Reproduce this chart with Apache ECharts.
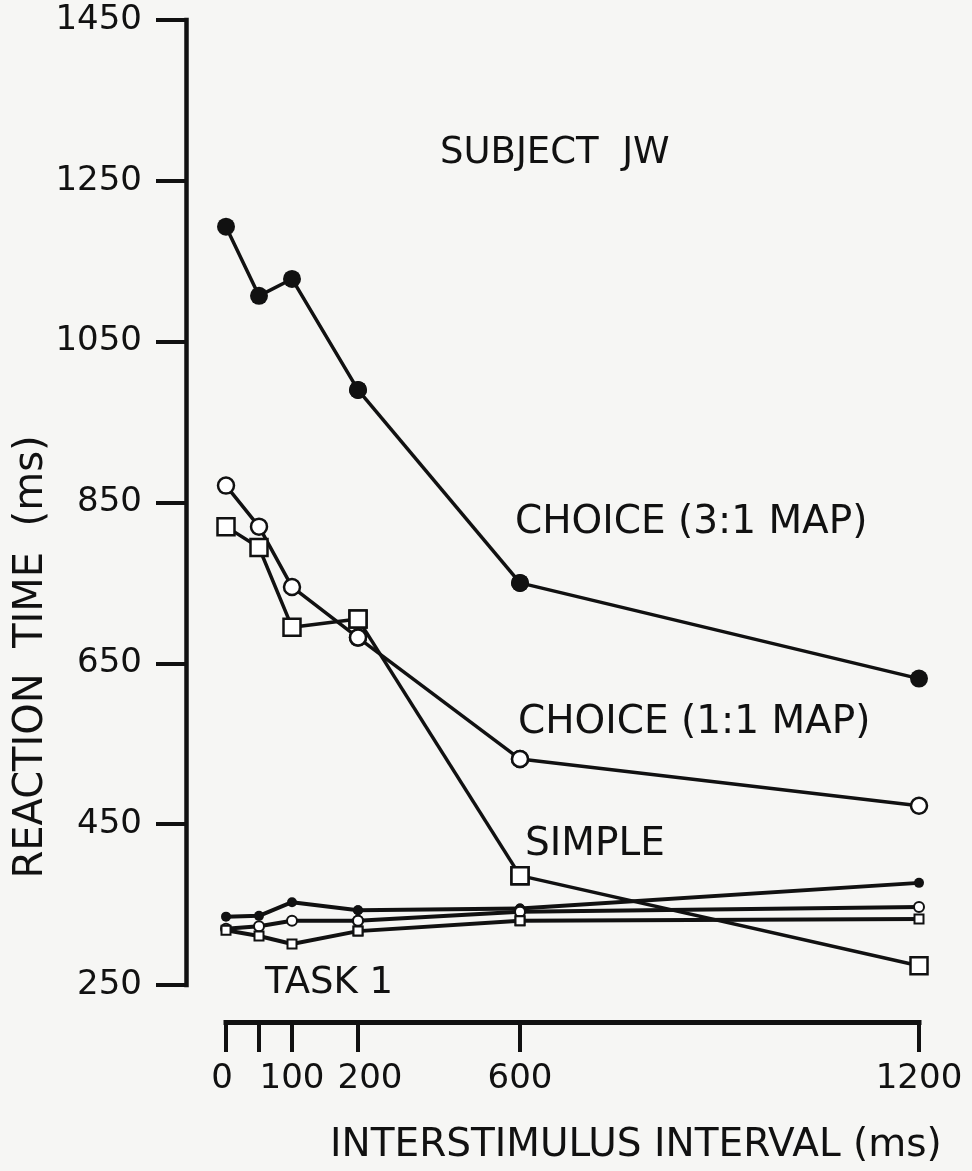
<!DOCTYPE html>
<html><head><meta charset="utf-8">
<script src="https://cdn.jsdelivr.net/npm/echarts@6/dist/echarts.min.js"></script>
<style>html,body{margin:0;padding:0;background:#f6f6f4;} #c{width:972px;height:1171px;}</style>
</head><body><div id="c"></div>
<script>
// ISI values (ms) and reaction times (ms)
const isi = [0, 50, 100, 200, 600, 1200];
const choice31 = [1193, 1107, 1128, 990, 750, 631];
const choice11 = [871, 820, 745, 682, 531, 473];
const simple = [820, 794, 695, 705, 386, 274];
const task1Choice31 = [335, 336, 353, 343, 345, 377];
const task1Choice11 = [320, 323, 330, 330, 341, 347];
const task1Simple = [318, 311, 301, 317, 330, 332];
const yTicks = [250, 450, 650, 850, 1050, 1250, 1450];
const xTicks = [0, 50, 100, 200, 600, 1200];
const xLabels = [0, 100, 200, 600, 1200];
// the original x axis is drawn in three differently scaled pieces
const segments = [[0, 200], [200, 600], [600, 1200]];

const BG = '#f6f6f4';
const INK = '#111';
const FONT = '"DejaVu Sans", sans-serif';

const gridBox = [
  { left: 226, width: 132 },
  { left: 358, width: 162 },
  { left: 520, width: 399 }
];
const inSeg = (v, i) => i === 0 ? v <= 200 : (i === 1 ? (v > 200 && v < 600) : v >= 600);

const grids = gridBox.map(b => ({ left: b.left, width: b.width, top: 20, height: 965 }));

// small nudges so the crowded "100 200" labels sit apart as in the original lettering
const xLabelRich = {
  n: { fontSize: 34, fontFamily: FONT, color: INK },
  l: { fontSize: 34, fontFamily: FONT, color: INK, padding: [0, 8, 0, 0] },
  r: { fontSize: 34, fontFamily: FONT, color: INK, padding: [0, 0, 0, 24] }
};
const xLabelFmt = v => {
  const s = String(v);
  if (v === 0) return '{l|' + s + '}';
  if (v === 200) return '{r|' + s + '}';
  return '{n|' + s + '}';
};

const xAxes = segments.map((s, i) => ({
  type: 'value', gridIndex: i, min: s[0], max: s[1], offset: 37,
  axisLine: { show: true, onZero: false, lineStyle: { color: INK, width: 5, cap: 'square' } },
  axisTick: { show: true, customValues: xTicks.filter(v => inSeg(v, i)), length: 30,
              lineStyle: { color: INK, width: 4 } },
  axisLabel: { show: true, customValues: xLabels.filter(v => inSeg(v, i)), margin: 40,
               formatter: xLabelFmt, rich: xLabelRich, fontSize: 34, fontFamily: FONT, color: INK },
  splitLine: { show: false }
}));

const yAxes = segments.map((s, i) => ({
  type: 'value', gridIndex: i, min: 250, max: 1450, show: i === 0, offset: 40,
  axisLine: { show: true, onZero: false, lineStyle: { color: INK, width: 4.5, cap: 'square' } },
  axisTick: { show: true, customValues: yTicks, length: 30, lineStyle: { color: INK, width: 4 } },
  axisLabel: { show: true, customValues: yTicks, margin: 44, fontSize: 34, fontFamily: FONT, color: INK,
               formatter: v => String(v) },
  splitLine: { show: false }
}));

const seriesDefs = [
  { vals: choice31, symbol: 'circle', size: 18, fill: INK, bw: 0, lw: 3.5 },
  { vals: choice11, symbol: 'circle', size: 16, fill: '#fff', bw: 2.5, lw: 3.5 },
  { vals: simple, symbol: 'rect', size: 17, fill: '#fff', bw: 2.5, lw: 3.5 },
  { vals: task1Choice31, symbol: 'circle', size: 10, fill: INK, bw: 0, lw: 4 },
  { vals: task1Choice11, symbol: 'circle', size: 10, fill: '#fff', bw: 2, lw: 4 },
  { vals: task1Simple, symbol: 'rect', size: 9, fill: '#fff', bw: 2, lw: 4 }
];

const series = [];
seriesDefs.forEach(d => {
  segments.forEach((s, g) => {
    const data = isi.map((x, k) => [x, d.vals[k]]).filter(p => p[0] >= s[0] && p[0] <= s[1]);
    series.push({
      type: 'line', xAxisIndex: g, yAxisIndex: g, data: data,
      symbol: d.symbol, symbolSize: d.size, showAllSymbol: true, clip: false,
      itemStyle: { color: d.fill, borderColor: INK, borderWidth: d.bw, opacity: 1 },
      lineStyle: { color: INK, width: d.lw },
      silent: true, animation: false
    });
  });
});

const txt = (text, x, y, size) => ({
  type: 'text', x: x, y: y, silent: true,
  style: { text: text, fill: INK, font: size + 'px ' + FONT, align: 'left', verticalAlign: 'middle',
           textAlign: 'left', textVerticalAlign: 'middle' }
});

const graphics = [
  txt('SUBJECT  JW', 440, 153, 37),
  txt('CHOICE (3:1 MAP)', 515, 523, 39),
  txt('CHOICE (1:1 MAP)', 518, 723, 39),
  txt('SIMPLE', 525, 845, 39),
  txt('TASK 1', 265, 983, 37),
  txt('INTERSTIMULUS INTERVAL (ms)', 330, 1146, 39),
  {
    type: 'text', x: 32, y: 657, rotation: Math.PI / 2, silent: true,
    style: { text: 'REACTION  TIME  (ms)', fill: INK, font: '40px ' + FONT,
             align: 'center', verticalAlign: 'middle', textAlign: 'center', textVerticalAlign: 'middle' }
  }
];

const chart = echarts.init(document.getElementById('c'), null, { renderer: 'canvas' });
chart.setOption({
  backgroundColor: BG,
  animation: false,
  grid: grids,
  xAxis: xAxes,
  yAxis: yAxes,
  series: series,
  graphic: graphics
});
</script>
</body></html>
